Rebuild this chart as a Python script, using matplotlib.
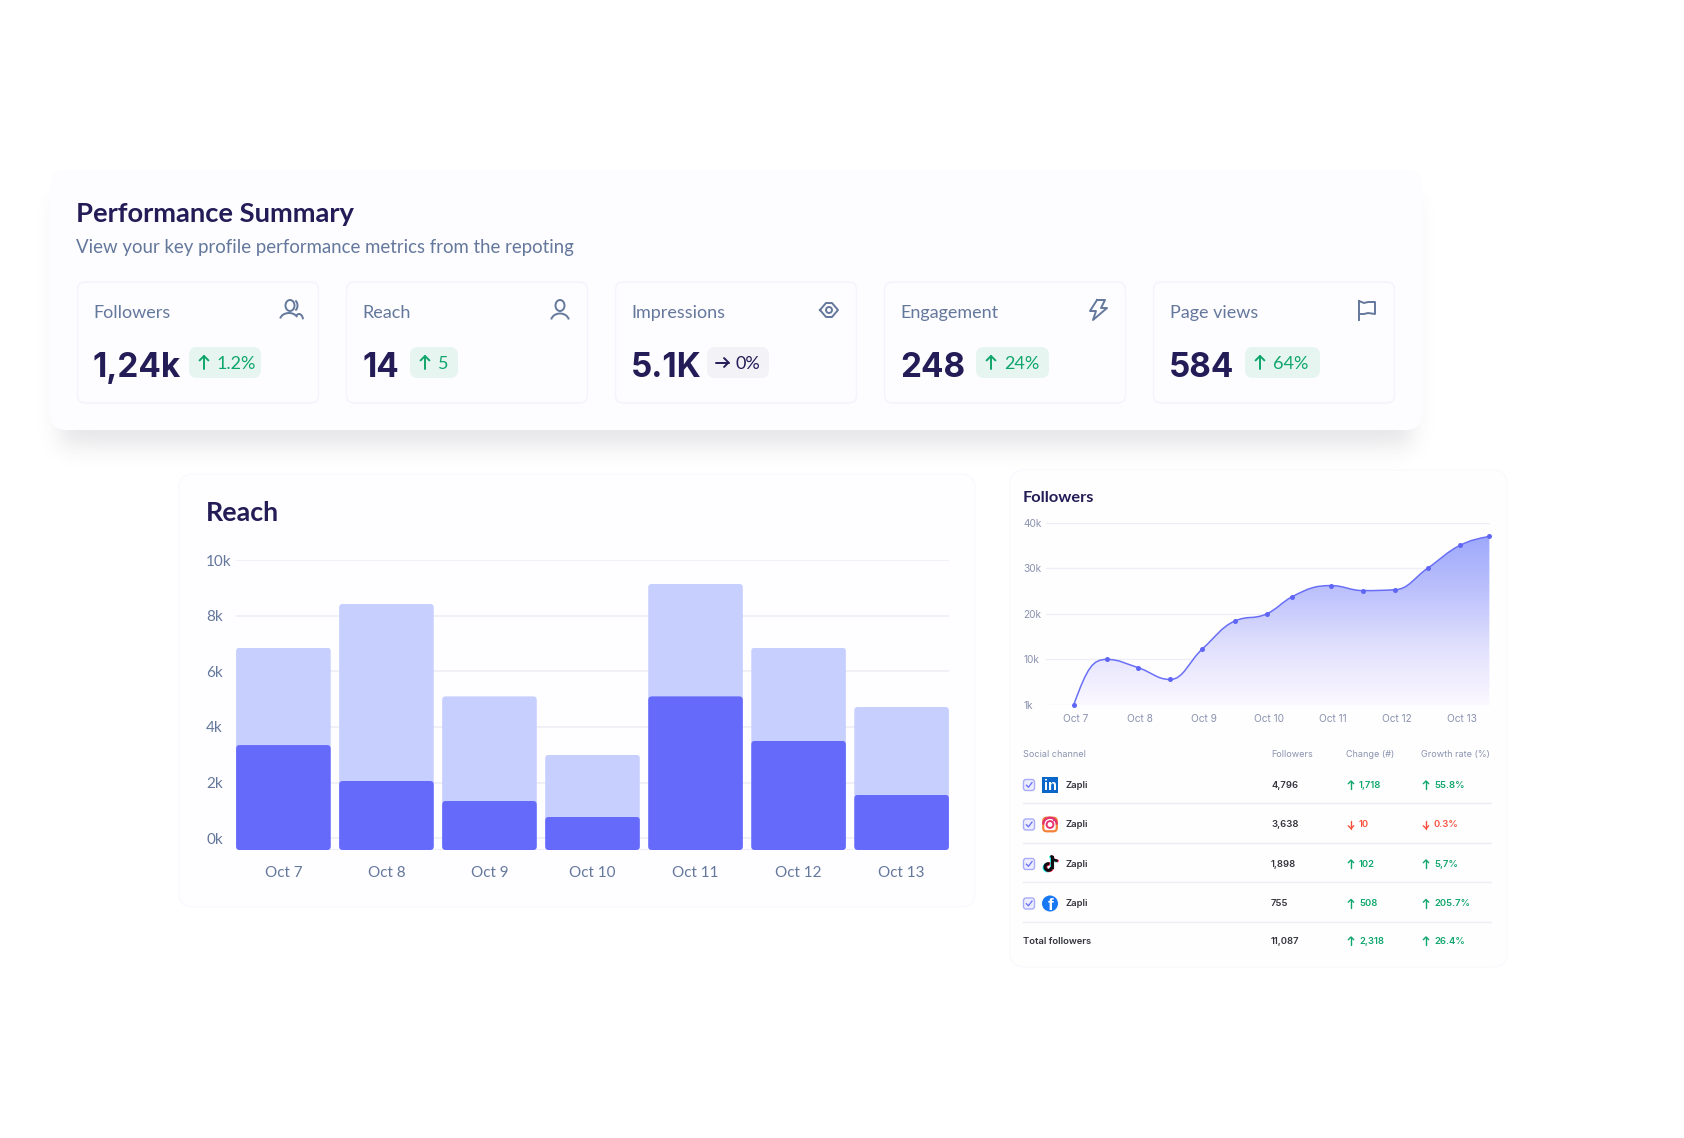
import numpy as np
import matplotlib
matplotlib.use("Agg")
import matplotlib.pyplot as plt
from matplotlib.patches import FancyBboxPatch, Circle, Ellipse, PathPatch, Rectangle, Arc
from matplotlib.path import Path
from matplotlib.colors import LinearSegmentedColormap

# ---------- data ----------
metric_names = ["Followers", "Reach", "Impressions", "Engagement", "Page views"]
metric_values = ["1,24k", "14", "5.1K", "248", "584"]
metric_deltas = ["1.2%", "5", "0%", "24%", "64%"]
metric_dirs = ["up", "up", "flat", "up", "up"]

days = ["Oct 7", "Oct 8", "Oct 9", "Oct 10", "Oct 11", "Oct 12", "Oct 13"]
reach_total = [6.85, 8.42, 5.10, 3.00, 9.14, 6.85, 4.72]
reach_part = [3.35, 2.06, 1.34, 0.77, 5.10, 3.50, 1.56]
reach_ticks = [0, 2, 4, 6, 8, 10]
reach_ticklabels = ["0k", "2k", "4k", "6k", "8k", "10k"]

foll_x = [0, 0.513, 1, 1.5, 2, 2.5, 3, 3.4, 4, 4.5, 5, 5.5, 6, 6.46]
foll_y = [0, 10, 8.2, 5.6, 12.3, 18.4, 20, 23.8, 26.2, 25.1, 25.3, 30, 35, 37]
foll_ticks = [0, 10, 20, 30, 40]
foll_ticklabels = ["1k", "10k", "20k", "30k", "40k"]

table_head = ["Social channel", "Followers", "Change (#)", "Growth rate (%)"]
channels = ["linkedin", "instagram", "tiktok", "facebook"]
channel_names = ["Zapli", "Zapli", "Zapli", "Zapli"]
channel_followers = ["4,796", "3,638", "1,898", "755"]
channel_change = ["1,718", "10", "102", "508"]
channel_growth = ["55.8%", "0.3%", "5,7%", "205.7%"]
channel_up = [True, False, True, True]
total_row = ["Total followers", "11,087", "2,318", "26.4%"]

# ---------- style ----------
INK = "#231C57"
GREY = "#64789C"
AXIS = "#8A92AE"
GREEN = "#0FA66C"
RED = "#F9503E"
LIGHT = "#C7CFFF"
DARK = "#666AFB"
GRID = "#EEEEF6"
CARD = "#FDFCFE"
HEAD_FONT = "Lato"
BODY_FONT = "Inter"

W, H = 1684, 1138
fig = plt.figure(figsize=(W / 100, H / 100), dpi=100, facecolor="white")
bg = fig.add_axes([0, 0, 1, 1], zorder=0)
bg.set_xlim(0, W)
bg.set_ylim(H, 0)
bg.axis("off")


def card(x0, y0, x1, y1, r, fc=CARD, ec="none", lw=1.0, z=2):
    p = FancyBboxPatch((x0, y0), x1 - x0, y1 - y0,
                       boxstyle=f"round,pad=0,rounding_size={r}",
                       fc=fc, ec=ec, lw=lw, zorder=z)
    bg.add_patch(p)
    return p


def txt(x, y, s, size, color, weight="normal", ha="left", va="center", font=BODY_FONT, z=6):
    return bg.text(x, y, s, fontsize=size, color=color, fontweight=weight,
                   ha=ha, va=va, family=font, zorder=z)


def arrow(x, y, h, direction, color, lw=1.4, z=6):
    s = h / 2
    w = h * 0.34
    if direction == "up":
        segs = [[(x, y + s), (x, y - s)], [(x - w, y - s + w), (x, y - s), (x + w, y - s + w)]]
    elif direction == "down":
        segs = [[(x, y - s), (x, y + s)], [(x - w, y + s - w), (x, y + s), (x + w, y + s - w)]]
    else:
        segs = [[(x - s, y), (x + s, y)], [(x + s - w, y - w), (x + s, y), (x + s - w, y + w)]]
    for seg in segs:
        xs, ys = zip(*seg)
        bg.plot(xs, ys, color=color, lw=lw, zorder=z, solid_capstyle="round", solid_joinstyle="round")


# ---------- main card with soft shadow ----------
sx0, sx1, sy0, sy1 = 60, 1412, 195, 446
gx, gy = np.meshgrid(np.arange(0, W, 2) + 1, np.arange(100, 520, 2) + 1)
sa = 0.25 * (np.tanh((gx - sx0) / 13) - np.tanh((gx - sx1) / 13)) * (np.tanh((gy - sy0) / 13) - np.tanh((gy - sy1) / 13))
rgba = np.zeros(gx.shape + (4,))
rgba[..., :3] = (0.25, 0.25, 0.32)
rgba[..., 3] = sa * 0.13
bg.imshow(rgba, extent=(0, W, 520, 100), aspect="auto", zorder=1, interpolation="bilinear")
bg.set_xlim(0, W)
bg.set_ylim(H, 0)
card(50, 170, 1422, 430, 16)

txt(76.5, 214, "Performance Summary", 19.7, INK, "bold", font=HEAD_FONT)
txt(76.5, 247, "View your key profile performance metrics from the repoting", 13.4, GREY, font=HEAD_FONT)

# ---------- metric cards ----------
badge_left = [189, 410, 707, 976, 1245]
badge_right = [261, 458, 769, 1049, 1320]
for i in range(5):
    x0 = 77.5 + 269 * i
    card(x0, 282, x0 + 241, 403, 8, fc="#FDFCFF", ec="#F5F3FC", lw=1.0, z=3)
    txt(x0 + 16, 312.5, metric_names[i], 13, GREY, font=HEAD_FONT)
    txt(x0 + 15.5, 377, metric_values[i], 24, INK, "bold", va="baseline", font=BODY_FONT)
    bx0 = badge_left[i]
    bx1 = badge_right[i]
    flat = metric_dirs[i] == "flat"
    card(bx0, 347, bx1, 378, 8, fc="#F3F2F7" if flat else "#E6F5F0", z=4)
    c = INK if flat else GREEN
    arrow(bx0 + 15, 362.5, 13, "flat" if flat else "up", c)
    txt(bx0 + 28, 364, metric_deltas[i], 13, c, font=HEAD_FONT)

# icons
ic = "#64789C"
lw_ic = 1.4
ix = 291
bg.add_patch(Ellipse((ix - 1, 305.5), 9, 11, fc="none", ec=ic, lw=lw_ic, zorder=6))
bg.add_patch(Arc((ix + 2.5, 305.5), 8, 11, theta1=-70, theta2=70, ec=ic, lw=lw_ic, zorder=6))
bg.add_patch(Arc((ix - 2, 320), 18, 14, theta1=190, theta2=340, ec=ic, lw=lw_ic, zorder=6))
bg.add_patch(Arc((ix + 8, 320), 8, 12, theta1=240, theta2=350, ec=ic, lw=lw_ic, zorder=6))
ix = 560
bg.add_patch(Ellipse((ix, 305.5), 9, 11, fc="none", ec=ic, lw=lw_ic, zorder=6))
bg.add_patch(Arc((ix, 321), 18, 15, theta1=190, theta2=350, ec=ic, lw=lw_ic, zorder=6))
ix = 829
eye_v = [(ix - 9, 310), (ix - 3, 303), (ix + 3, 303), (ix + 9, 310), (ix + 3, 317), (ix - 3, 317), (ix - 9, 310)]
bg.plot(*zip(*eye_v), color=ic, lw=lw_ic, zorder=6, solid_joinstyle="round")
bg.add_patch(Circle((ix, 310), 3, fc="none", ec=ic, lw=lw_ic, zorder=6))
ix = 1098
bolt = [(ix - 1, 300), (ix + 7, 300), (ix + 3, 308), (ix + 9, 308), (ix - 5, 320), (ix - 2, 311), (ix - 8, 311), (ix - 1, 300)]
bg.plot(*zip(*bolt), color=ic, lw=lw_ic, zorder=6, solid_joinstyle="round")
ix = 1359
bg.plot([ix, ix], [301, 320], color=ic, lw=lw_ic, zorder=6)
flag = [(ix, 301), (ix + 5, 303), (ix + 9, 302), (ix + 16, 302), (ix + 16, 314), (ix + 9, 313), (ix + 5, 314), (ix, 314)]
bg.plot(*zip(*flag), color=ic, lw=lw_ic, zorder=6, solid_joinstyle="round")

# ---------- lower cards ----------
card(179, 474, 975, 907, 14, fc="#FEFDFF", ec="#FAF9FD")
card(1010, 470, 1507, 967, 14, fc="#FEFEFF", ec="#FAF9FD")
txt(206, 513, "Reach", 19.3, INK, "bold", font=HEAD_FONT)
txt(1023, 498, "Followers", 11.8, INK, "bold", font=HEAD_FONT)


def px_axes(x0, x1, ytop, ybot, z=3):
    return fig.add_axes([x0 / W, 1 - ybot / H, (x1 - x0) / W, (ybot - ytop) / H], zorder=z, facecolor="none")


def clean(ax):
    for s in ax.spines.values():
        s.set_visible(False)


# ---------- reach bars ----------
ax = px_axes(236, 949, 560, 850)
clean(ax)
base = -0.42
xs = np.arange(len(days))
ax.set_xlim(-0.46, 6.46)
ax.set_ylim(base, 10)
ax.set_yticks(reach_ticks, reach_ticklabels)
ax.set_xticks(xs, days)
ax.tick_params(axis="both", length=0)
ax.tick_params(axis="x", pad=11.5, labelsize=11, labelcolor=GREY)
ax.tick_params(axis="y", pad=21.5, labelsize=11, labelcolor=GREY)
for t in ax.get_xticklabels() + ax.get_yticklabels():
    t.set_family(HEAD_FONT)
for t in ax.get_yticklabels():
    t.set_ha("left")
ax.grid(axis="y", color=GRID, lw=1.2)
ax.set_axisbelow(True)
ax.axhline(base, color="#ECECFA", lw=1.5, zorder=1)

bars_l = ax.bar(xs, np.array(reach_total) - base, 0.918, bottom=base, color=LIGHT, zorder=2)
bars_d = ax.bar(xs, np.array(reach_part) - base, 0.918, bottom=base, color=DARK, zorder=3)
for rect in list(bars_l) + list(bars_d):
    clip = FancyBboxPatch((rect.get_x(), rect.get_y()), rect.get_width(), rect.get_height(),
                          boxstyle="round,pad=0,rounding_size=0.035", mutation_aspect=3.7,
                          transform=ax.transData, fc="none", ec="none")
    rect.set_clip_path(clip)

# ---------- followers area ----------
ax2 = px_axes(1046, 1490, 522.7, 705)
clean(ax2)
ax2.set_xlim(-0.43, 6.47)
ax2.set_ylim(0, 40)
ax2.set_yticks(foll_ticks, foll_ticklabels)
ax2.set_xticks(np.arange(len(days)) + 0.03, days)
ax2.tick_params(axis="both", length=0)
ax2.tick_params(axis="x", pad=6.5, labelsize=7.3, labelcolor=AXIS)
ax2.tick_params(axis="y", pad=16.5, labelsize=7.3, labelcolor=AXIS)
for t in ax2.get_xticklabels() + ax2.get_yticklabels():
    t.set_family(BODY_FONT)
for t in ax2.get_yticklabels():
    t.set_ha("left")
ax2.set_axisbelow(True)

fx = np.array(foll_x, float)
fy = np.array(foll_y, float)
n = len(fx)
h = np.diff(fx)
sl = np.diff(fy) / h
tang = np.zeros(n)
for i in range(1, n - 1):
    p = (sl[i - 1] * h[i] + sl[i] * h[i - 1]) / (h[i - 1] + h[i])
    tang[i] = (np.sign(sl[i - 1]) + np.sign(sl[i])) * min(abs(sl[i - 1]), abs(sl[i]), 0.5 * abs(p))
tang[0] = 2.0 * sl[0]
tang[-1] = (3 * sl[-1] - tang[-2]) / 2
verts = [(fx[0], fy[0])]
codes = [Path.MOVETO]
for i in range(n - 1):
    d = h[i] * 0.42
    verts += [(fx[i] + d, fy[i] + d * tang[i]), (fx[i + 1] - d, fy[i + 1] - d * tang[i + 1]), (fx[i + 1], fy[i + 1])]
    codes += [Path.CURVE4] * 3
line_path = Path(verts, codes)
area_path = Path(verts + [(fx[-1], 0), (fx[0], 0), (fx[0], fy[0])],
                 codes + [Path.LINETO, Path.LINETO, Path.CLOSEPOLY])
cmap = LinearSegmentedColormap.from_list("area", ["#FBF8FF", "#E2E1FD", "#BDC2FC", "#9EA9FB"])
grad = np.linspace(1, 0, 256).reshape(-1, 1)
im = ax2.imshow(grad, extent=(fx[0], fx[-1], 0, 37), aspect="auto", cmap=cmap, vmin=0, vmax=1, zorder=1)
im.set_clip_path(PathPatch(area_path, transform=ax2.transData))
ax2.set_xlim(-0.43, 6.47)
ax2.set_ylim(0, 40)
ax2.grid(axis="y", color="#EBEBF7", lw=1.0, zorder=2, alpha=0.8)
ax2.add_patch(PathPatch(line_path, fc="none", ec="#6A70F5", lw=1.1, zorder=3))
ax2.plot(fx, fy, ls="none", marker="o", ms=3.6, mfc="#5F66F5", mec="none", zorder=4, clip_on=False)

# ---------- table ----------
col_x = [1023, 1271, 1346, 1421]
for xx, s in zip(col_x, table_head):
    txt(xx, 754, s, 6.5, "#8A93AE")
row_y = [785, 824.5, 864, 903.5]
sep_y = [803, 843, 882, 922]
TXT = "#33343C"
for y in sep_y:
    bg.plot([1023, 1491], [y, y], color="#EDEDF6", lw=1.0, zorder=5)


def checkbox(x, y):
    p = FancyBboxPatch((x - 5.5, y - 5.5), 11, 11, boxstyle="round,pad=0,rounding_size=2.5",
                       fc="#ECEDFE", ec="#A9ACF9", lw=1.0, zorder=6)
    bg.add_patch(p)
    bg.plot([x - 2.6, x - 0.6, x + 3], [y + 0.2, y + 2.3, y - 2.4], color="#666AFB", lw=0.9, zorder=7)


def logo(kind, x, y):
    if kind == "linkedin":
        bg.add_patch(Rectangle((x - 8, y - 8), 16, 16, fc="#0A66C8", ec="none", zorder=6))
        bg.text(x + 0.2, y + 0.5, "in", color="white", fontsize=10.5, fontweight="bold",
                ha="center", va="center", family="Liberation Sans", zorder=7)
    elif kind == "instagram":
        bg.add_patch(FancyBboxPatch((x - 6.8, y - 6.8), 13.6, 13.6, boxstyle="round,pad=0,rounding_size=3.5",
                                    fc="white", ec="#F5813A", lw=1.6, zorder=6))
        bg.add_patch(Arc((x, y), 13.6, 13.6, theta1=180, theta2=360, ec="#E1306C", lw=1.6, zorder=7))
        bg.add_patch(Circle((x, y), 3.4, fc="none", ec="#E8336F", lw=1.4, zorder=7))
        bg.add_patch(Circle((x + 3.9, y - 3.9), 0.9, fc="#D52D8F", ec="none", zorder=7))
    elif kind == "tiktok":
        def note(dx, dy, col, z):
            bg.plot([x + 1.5 + dx, x + 1.5 + dx], [y - 7.5 + dy, y + 3 + dy], color=col, lw=2.2, zorder=z)
            bg.add_patch(Arc((x - 1.7 + dx, y + 3 + dy), 6.6, 6.6, theta1=0, theta2=290, ec=col, lw=2.2, zorder=z))
            bg.plot([x + 1.5 + dx, x + 3 + dx, x + 6.5 + dx], [y - 7.5 + dy, y - 4.5 + dy, y - 3.4 + dy],
                    color=col, lw=1.8, zorder=z)
        note(-0.9, 0.6, "#25F4EE", 6)
        note(0.9, 0.3, "#FE2C55", 6)
        note(0, 0, "#101014", 7)
    elif kind == "facebook":
        bg.add_patch(Circle((x, y), 8, fc="#1877F2", ec="none", zorder=6))
        bg.text(x + 0.6, y + 1.5, "f", color="white", fontsize=12.5, fontweight="bold",
                ha="center", va="center", family="Liberation Sans", zorder=7)


TS = 6.8
for i in range(4):
    y = row_y[i]
    checkbox(1029, y)
    logo(channels[i], 1050, y)
    txt(1066, y, channel_names[i], TS, TXT, "semibold")
    txt(1271, y, channel_followers[i], TS, TXT, "semibold")
    col = GREEN if channel_up[i] else RED
    d = "up" if channel_up[i] else "down"
    arrow(1351, y, 8, d, col, lw=1.0)
    txt(1359, y, channel_change[i], TS, col, "semibold")
    arrow(1426, y, 8, d, col, lw=1.0)
    txt(1434, y, channel_growth[i], TS, col, "semibold")
y = 941
txt(1023, y, total_row[0], TS, TXT, "semibold")
txt(1271, y, total_row[1], TS, TXT, "semibold")
arrow(1351, y, 8, "up", GREEN, lw=1.0)
txt(1359, y, total_row[2], TS, GREEN, "semibold")
arrow(1426, y, 8, "up", GREEN, lw=1.0)
txt(1434, y, total_row[3], TS, GREEN, "semibold")

fig.savefig("out.png", dpi=100, facecolor="white")
